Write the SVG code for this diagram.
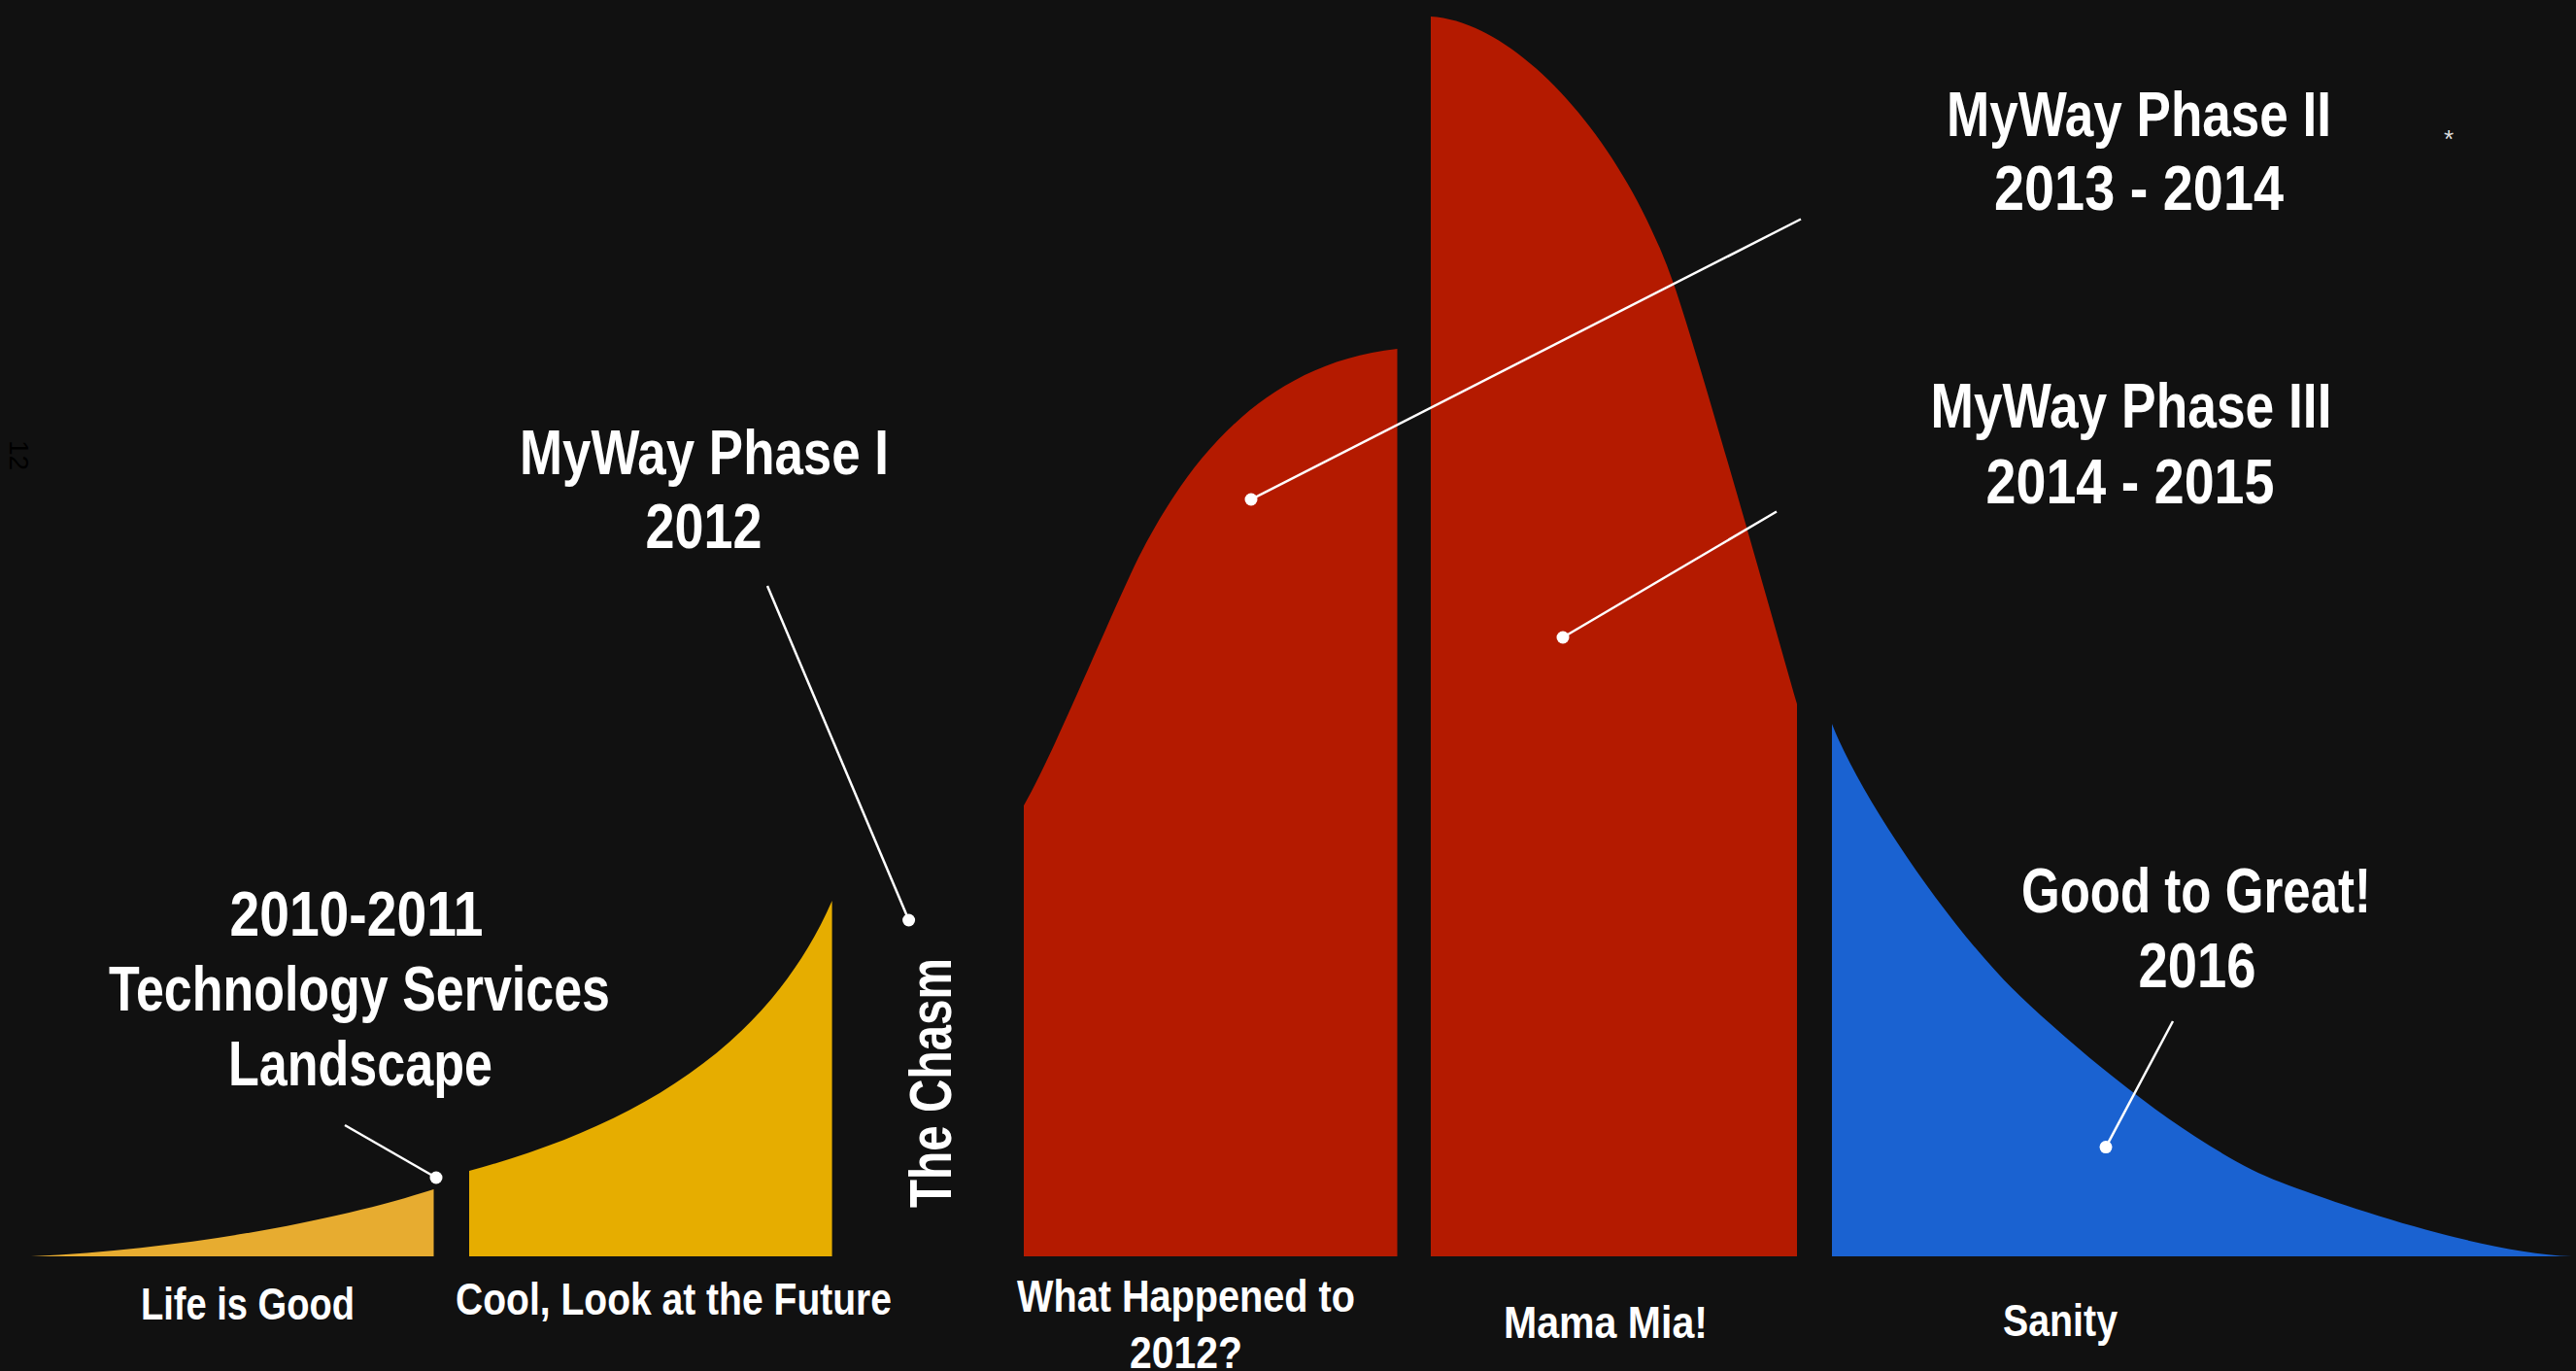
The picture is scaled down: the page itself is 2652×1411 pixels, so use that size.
<svg xmlns="http://www.w3.org/2000/svg" width="2652" height="1411" viewBox="0 0 2652 1411">
<style>
  text { font-family: 'Liberation Sans Narrow', 'Liberation Sans', Arial, sans-serif; font-weight: bold; fill: #ffffff; text-anchor: middle; }
  .head { font-size: 64px; }
  .label { font-size: 46px; }
  .lead { stroke: #ffffff; stroke-width: 2.5; fill: none; }
  .dot { fill: #ffffff; }
</style>
<rect x="0" y="0" width="2652" height="1411" fill="#111111"/>
<g id="life-is-good">
  <path d="M32,1293 C200,1285 350,1255 446.5,1224 L446.5,1293 Z" fill="#E7AC30"/>
  <text class="label" x="255" y="1358" textLength="220" lengthAdjust="spacingAndGlyphs">Life is Good</text>
</g>
<g id="cool-future">
  <path d="M483,1205 C650,1160 790,1080 856.6,927 L856.6,1293 L483,1293 Z" fill="#E6AD00"/>
  <text class="label" x="693.5" y="1353" textLength="449" lengthAdjust="spacingAndGlyphs">Cool, Look at the Future</text>
</g>
<g id="what-happened">
  <path d="M1054,829 C1085,775 1140,640 1172,574 C1215,490 1290,375 1438.5,359 L1438.5,1293 L1054,1293 Z" fill="#B41A00"/>
  <text class="label" x="1221" y="1350" textLength="348" lengthAdjust="spacingAndGlyphs">What Happened to</text>
  <text class="label" x="1221" y="1408" textLength="116" lengthAdjust="spacingAndGlyphs">2012?</text>
</g>
<g id="mama-mia">
  <path d="M1473,17 C1560,22 1670,140 1723,292 C1748,363.8 1820,619.5 1850,724.5 L1850,1293 L1473,1293 Z" fill="#B41A00"/>
  <text class="label" x="1653" y="1377" textLength="210" lengthAdjust="spacingAndGlyphs">Mama Mia!</text>
</g>
<g id="sanity">
  <path d="M1886,745 C1915,820 2009.6,958.5 2079.6,1025 C2150,1092 2265,1185 2347.5,1216.6 C2420,1244.4 2560,1290 2648,1293 L1886,1293 Z" fill="#1A62D1"/>
  <text class="label" x="2121" y="1375" textLength="118" lengthAdjust="spacingAndGlyphs">Sanity</text>
</g>
<g id="chasm">
  <text transform="translate(979,1114.5) rotate(-90)" style="font-size:62px" textLength="257" lengthAdjust="spacingAndGlyphs">The Chasm</text>
</g>
<g id="callout-2010">
  <text class="head" x="367" y="963" textLength="261" lengthAdjust="spacingAndGlyphs">2010-2011</text>
  <text class="head" x="370" y="1040" textLength="516" lengthAdjust="spacingAndGlyphs">Technology Services</text>
  <text class="head" x="371" y="1117" textLength="272" lengthAdjust="spacingAndGlyphs">Landscape</text>
</g>
<g id="callout-phase1">
  <text class="head" x="725" y="488" textLength="380" lengthAdjust="spacingAndGlyphs">MyWay Phase I</text>
  <text class="head" x="724.5" y="564" textLength="120" lengthAdjust="spacingAndGlyphs">2012</text>
</g>
<g id="callout-phase2">
  <text class="head" x="2202" y="140" textLength="396" lengthAdjust="spacingAndGlyphs">MyWay Phase II</text>
  <text class="head" x="2202" y="216" textLength="298" lengthAdjust="spacingAndGlyphs">2013 - 2014</text>
</g>
<g id="callout-phase3">
  <text class="head" x="2194" y="440" textLength="413" lengthAdjust="spacingAndGlyphs">MyWay Phase III</text>
  <text class="head" x="2193" y="518" textLength="297" lengthAdjust="spacingAndGlyphs">2014 - 2015</text>
</g>
<g id="callout-2016">
  <text class="head" x="2261" y="939" textLength="360" lengthAdjust="spacingAndGlyphs">Good to Great!</text>
  <text class="head" x="2262" y="1016" textLength="121" lengthAdjust="spacingAndGlyphs">2016</text>
</g>
<g id="connectors">
  <line class="lead" x1="355" y1="1158" x2="449" y2="1212"/>
  <circle class="dot" cx="449" cy="1212" r="6.5"/>
  <line class="lead" x1="790" y1="603" x2="935.6" y2="947"/>
  <circle class="dot" cx="935.6" cy="947" r="6.5"/>
  <line class="lead" x1="1854" y1="225.5" x2="1288" y2="514"/>
  <circle class="dot" cx="1288" cy="514" r="6.5"/>
  <line class="lead" x1="1829" y1="526.5" x2="1609" y2="656"/>
  <circle class="dot" cx="1609" cy="656" r="6.5"/>
  <line class="lead" x1="2237" y1="1051" x2="2168" y2="1180.6"/>
  <circle class="dot" cx="2168" cy="1180.6" r="6.5"/>
</g>
<text transform="translate(10,468.5) rotate(90)" style="font-size:28px;font-weight:normal;fill:#000000;font-family:'Liberation Sans', Arial, sans-serif">12</text>
<text x="2521" y="152" style="font-size:26px;font-weight:normal;fill:#dddddd;font-family:'Liberation Sans', Arial, sans-serif">*</text>
</svg>
